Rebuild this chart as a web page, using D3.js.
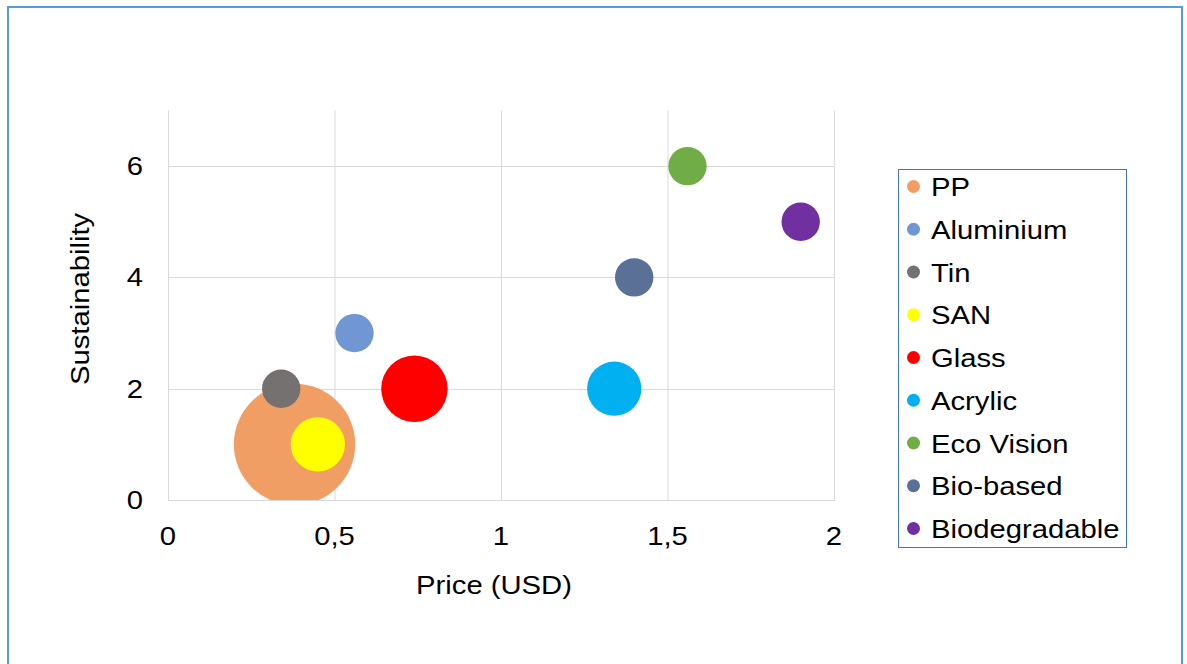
<!DOCTYPE html>
<html>
<head>
<meta charset="utf-8">
<script src="https://cdn.jsdelivr.net/npm/d3@7"></script>
<style>
  html, body { margin: 0; padding: 0; background: #fff; }
  svg { display: block; }
  text { font-family: "Liberation Sans", Arial, sans-serif; fill: #000; }
</style>
</head>
<body>
<svg id="chart" width="1187" height="664"></svg>
<script>
// Packaging materials: price vs. sustainability, bubble area = relative size
const materials = ["PP", "Aluminium", "Tin", "SAN", "Glass", "Acrylic", "Eco Vision", "Bio-based", "Biodegradable"];
const price = [0.38, 0.56, 0.34, 0.45, 0.74, 1.34, 1.56, 1.40, 1.90];
const sustainability = [1, 3, 2, 1, 2, 2, 6, 4, 5];
const bubbleSize = [10, 1, 1, 2, 3, 2, 1, 1, 1];
const colors = ["#F09E63", "#7096D4", "#767171", "#FFFF00", "#FF0000", "#00B0F0", "#70AD47", "#5A7097", "#7030A0"];
const xTicks = [0, 0.5, 1, 1.5, 2];
const xTickLabels = ["0", "0,5", "1", "1,5", "2"];
const yTicks = [0, 2, 4, 6];

const svg = d3.select("#chart");
const FS = 26;        // font size
const SX = 1.125;     // horizontal text stretch

// outer frame
svg.append("rect")
  .attr("x", 8).attr("y", 7).attr("width", 1174).attr("height", 700)
  .attr("fill", "none").attr("stroke", "#5B9BD5").attr("stroke-width", 2);

const plot = { left: 168, right: 834, top: 110.5, bottom: 500 };
const x = d3.scaleLinear().domain([0, 2]).range([plot.left, plot.right]);
const y = d3.scaleLinear().domain([0, 7]).range([plot.bottom, plot.top]);
const r = d3.scaleSqrt().domain([0, 10]).range([0, 60.7]);

// stretched text helper
function label(g, tx, ty, str, anchor, rotate) {
  return g.append("text")
    .attr("transform", `translate(${tx},${ty})${rotate ? ` rotate(${rotate})` : ""} scale(${SX},1)`)
    .attr("text-anchor", anchor || "start")
    .attr("font-size", FS)
    .text(str);
}

// gridlines
const grid = svg.append("g");
grid.selectAll("line.gx").data(xTicks).join("line")
  .attr("x1", d => x(d) + 0.5).attr("x2", d => x(d) + 0.5)
  .attr("y1", plot.top).attr("y2", plot.bottom)
  .attr("stroke", "#D9D9D9").attr("stroke-width", 1);
grid.selectAll("line.gy").data(yTicks).join("line")
  .attr("x1", plot.left).attr("x2", plot.right + 1)
  .attr("y1", d => Math.round(y(d)) + 0.5).attr("y2", d => Math.round(y(d)) + 0.5)
  .attr("stroke", "#D9D9D9").attr("stroke-width", 1);

// bubbles, clipped to the plot area
svg.append("clipPath").attr("id", "plotClip")
  .append("rect")
  .attr("x", plot.left).attr("y", plot.top)
  .attr("width", plot.right - plot.left + 2).attr("height", plot.bottom - plot.top);

const data = materials.map((m, i) => ({
  name: m, price: price[i], sus: sustainability[i], size: bubbleSize[i], color: colors[i]
}));

svg.append("g").attr("clip-path", "url(#plotClip)")
  .selectAll("circle").data(data).join("circle")
  .attr("cx", d => x(d.price))
  .attr("cy", d => y(d.sus))
  .attr("r", d => r(d.size))
  .attr("fill", d => d.color);

// axis tick labels
const ticks = svg.append("g");
xTicks.forEach((t, i) => label(ticks, x(t), 545, xTickLabels[i], "middle"));
yTicks.forEach(t => label(ticks, 143, y(t) + 9, String(t), "end"));

// axis titles
label(svg, 494, 594, "Price (USD)", "middle");
label(svg, 89, 299, "Sustainability", "middle", -90);

// legend
const lg = svg.append("g");
lg.append("rect")
  .attr("x", 898.5).attr("y", 169.5).attr("width", 228).attr("height", 378)
  .attr("fill", "#fff").attr("stroke", "#4472C4").attr("stroke-width", 1);
const rowY = d3.scaleLinear().domain([0, materials.length - 1]).range([186.5, 528.5]);
data.forEach((d, i) => {
  lg.append("circle").attr("cx", 913.5).attr("cy", rowY(i)).attr("r", 6.5).attr("fill", d.color);
  label(lg, 931, rowY(i) + 9.5, d.name, "start");
});
</script>
</body>
</html>
